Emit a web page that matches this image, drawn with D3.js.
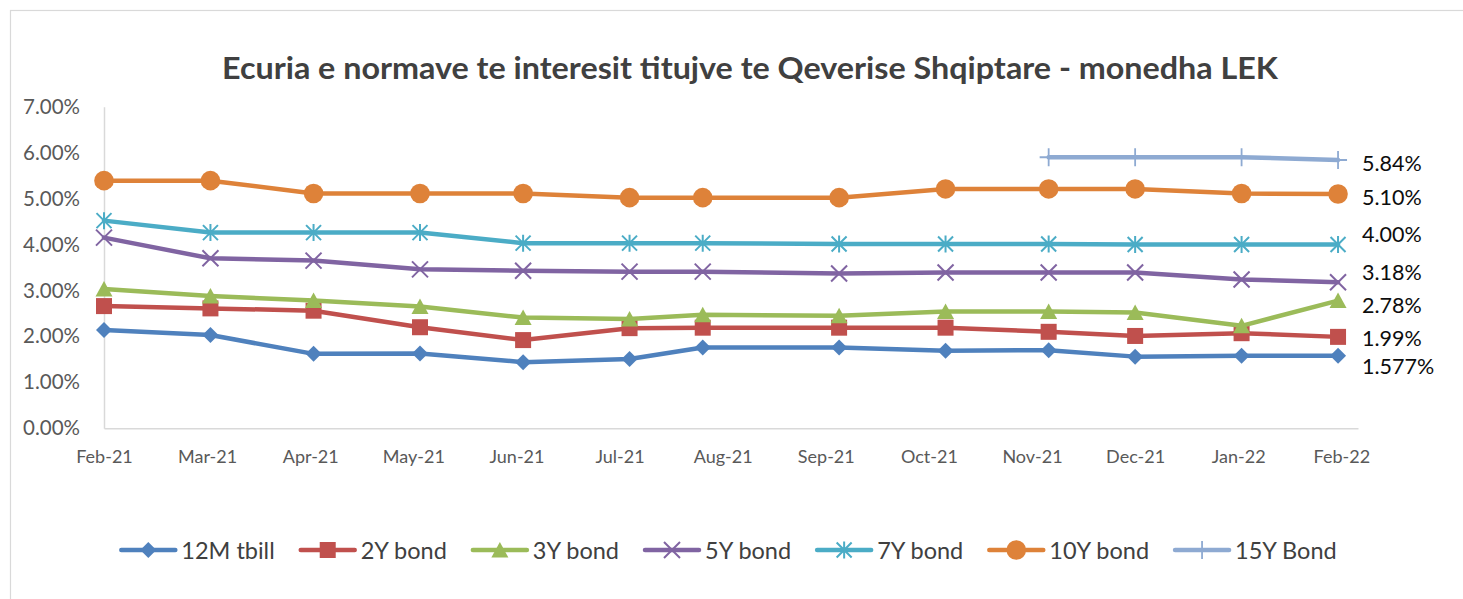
<!DOCTYPE html>
<html lang="sq">
<head>
    <meta charset="UTF-8">
    <script src="https://cdn.jsdelivr.net/npm/d3@7"></script>
    <title>Ecuria e normave te interesit</title>
    <style>
        body { margin: 0; background: #fff; }
        svg { display: block; font-family: Lato, "Open Sans", sans-serif; }
    </style>
</head>
<body>
<svg width="1463" height="599"></svg>

<script>
    // auction dates (points sit at their real date, ticks every 31 days)
    const dates = ["2021-02-10", "2021-03-14", "2021-04-14", "2021-05-16", "2021-06-16", "2021-07-18",
                   "2021-08-09", "2021-09-19", "2021-10-21", "2021-11-21", "2021-12-17", "2022-01-18", "2022-02-16"];
    const xTickLabels = ["Feb-21", "Mar-21", "Apr-21", "May-21", "Jun-21", "Jul-21", "Aug-21",
                         "Sep-21", "Oct-21", "Nov-21", "Dec-21", "Jan-22", "Feb-22"];
    const yTicks = [0, 1, 2, 3, 4, 5, 6, 7];

    const seriesNames = ["12M tbill", "2Y bond", "3Y bond", "5Y bond", "7Y bond", "10Y bond", "15Y Bond"];
    const tbill12M = [2.14, 2.03, 1.62, 1.63, 1.44, 1.51, 1.76, 1.76, 1.69, 1.70, 1.56, 1.58, 1.577];
    const bond2Y   = [2.66, 2.61, 2.56, 2.20, 1.92, 2.18, 2.19, 2.19, 2.19, 2.10, 2.01, 2.07, 1.99];
    const bond3Y   = [3.03, 2.88, 2.78, 2.65, 2.41, 2.38, 2.47, 2.45, 2.54, 2.54, 2.52, 2.23, 2.78];
    const bond5Y   = [4.15, 3.70, 3.65, 3.46, 3.43, 3.41, 3.41, 3.37, 3.39, 3.39, 3.39, 3.24, 3.18];
    const bond7Y   = [4.52, 4.26, 4.26, 4.26, 4.03, 4.03, 4.03, 4.01, 4.01, 4.01, 4.00, 4.00, 4.00];
    const bond10Y  = [5.39, 5.39, 5.11, 5.11, 5.11, 5.02, 5.02, 5.02, 5.21, 5.21, 5.21, 5.11, 5.10];
    const bond15Y  = [null, null, null, null, null, null, null, null, null, 5.90, 5.90, 5.90, 5.84];
    const lastLabels = ["1.577%", "1.99%", "2.78%", "3.18%", "4.00%", "5.10%", "5.84%"];

    const allValues = [tbill12M, bond2Y, bond3Y, bond5Y, bond7Y, bond10Y, bond15Y];

    // look of each series
    const colors  = ["#4f81bd", "#c0504d", "#9bbb59", "#8064a2", "#4bacc6", "#de8239", "#8eaad2"];
    const markers = ["diamond", "square", "triangle", "cross", "star", "circle", "plus"];
    const labelDy = [10, 1, 4, -10, -11, 3, 3];

    const parse = d3.timeParse("%Y-%m-%d");
    const dateObjs = dates.map(parse);
    const start = dateObjs[0];
    const tickDates = xTickLabels.map((_, i) => d3.timeDay.offset(start, 31 * i));

    const svg = d3.select("svg");

    svg.append("rect")
        .attr("x", 10.5).attr("y", 10.5)
        .attr("width", 1480).attr("height", 620)
        .attr("fill", "#fff").attr("stroke", "#d9d9d9").attr("stroke-width", 1.2);

    const x = d3.scaleTime()
        .domain([start, d3.timeDay.offset(start, 377)])
        .range([104, 1358]);
    const y = d3.scaleLinear()
        .domain([0, 7])
        .range([428.3, 106.7]);

    // title
    svg.append("text")
        .attr("x", 750).attr("y", 79)
        .attr("text-anchor", "middle")
        .attr("font-size", 30.5).attr("font-weight", "bold")
        .attr("fill", "#404040")
        .attr("textLength", 1056).attr("lengthAdjust", "spacingAndGlyphs")
        .text("Ecuria e normave te interesit titujve te Qeverise Shqiptare - monedha LEK");

    // axes
    const yAxis = svg.append("g")
        .attr("transform", "translate(104,0)")
        .call(d3.axisLeft(y).tickValues(yTicks).tickSize(0).tickPadding(24)
            .tickFormat(d => d.toFixed(2) + "%"));
    const xAxis = svg.append("g")
        .attr("transform", "translate(0,428.3)")
        .call(d3.axisBottom(x).tickValues(tickDates).tickSize(0).tickPadding(22)
            .tickFormat((d, i) => xTickLabels[i]));

    [yAxis, xAxis].forEach(a => {
        a.select(".domain").attr("stroke", "#d9d9d9").attr("stroke-width", 1.5);
        a.selectAll("text").attr("fill", "#595959").style("font-family", "Lato");
    });
    yAxis.selectAll("text").attr("font-size", 20.5);
    xAxis.selectAll("text").attr("font-size", 18);

    function drawMarker(g, type, color) {
        if (type === "diamond") {
            g.append("path").attr("d", "M0,-8L8,0L0,8L-8,0Z").attr("fill", color);
        } else if (type === "square") {
            g.append("rect").attr("x", -8).attr("y", -8).attr("width", 16).attr("height", 16).attr("fill", color);
        } else if (type === "triangle") {
            g.append("path").attr("d", "M0,-8L8.5,7.5L-8.5,7.5Z").attr("fill", color);
        } else if (type === "circle") {
            g.append("circle").attr("r", 9.8).attr("fill", color);
        } else if (type === "cross") {
            g.append("path").attr("d", "M-8,-8L8,8M8,-8L-8,8")
                .attr("stroke", color).attr("stroke-width", 2).attr("fill", "none");
        } else if (type === "star") {
            g.append("path").attr("d", "M-7.5,-7.5L7.5,7.5M7.5,-7.5L-7.5,7.5M0,-8.5L0,8.5")
                .attr("stroke", color).attr("stroke-width", 2).attr("fill", "none");
        } else if (type === "plus") {
            g.append("path").attr("d", "M-9,0L9,0M0,-9L0,9")
                .attr("stroke", color).attr("stroke-width", 1.8).attr("fill", "none");
        }
    }

    const line = d3.line()
        .defined(d => d.v != null)
        .x(d => x(d.date))
        .y(d => y(d.v));

    const plot = svg.append("g");
    allValues.forEach((vals, si) => {
        const pts = vals.map((v, i) => ({date: dateObjs[i], v: v}));
        const g = plot.append("g");
        g.append("path")
            .datum(pts)
            .attr("d", line)
            .attr("fill", "none")
            .attr("stroke", colors[si])
            .attr("stroke-width", 4.5)
            .attr("stroke-linejoin", "round")
            .attr("stroke-linecap", "round");
        pts.filter(d => d.v != null).forEach(d => {
            const m = g.append("g").attr("transform", `translate(${x(d.date)},${y(d.v)})`);
            drawMarker(m, markers[si], colors[si]);
        });
        // value label at the last point
        const last = pts[pts.length - 1];
        svg.append("text")
            .attr("x", x(last.date) + 24)
            .attr("y", y(last.v) + labelDy[si])
            .attr("dominant-baseline", "central")
            .attr("font-size", 21.5)
            .attr("fill", "#0d0d0d")
            .text(lastLabels[si]);
    });

    // legend
    const legend = svg.append("g");
    let lx = 0;
    seriesNames.forEach((name, si) => {
        const it = legend.append("g").attr("transform", `translate(${lx},550)`);
        it.append("line").attr("x1", 0).attr("x2", 54)
            .attr("stroke", colors[si]).attr("stroke-width", 4.5).attr("stroke-linecap", "round");
        drawMarker(it.append("g").attr("transform", "translate(27,0)"), markers[si], colors[si]);
        const t = it.append("text").attr("x", 60).attr("dominant-baseline", "central")
            .attr("font-size", 23.5).attr("fill", "#404040").text(name);
        lx += 60 + t.node().getComputedTextLength() + 26;
    });
    const legendW = lx - 26;
    legend.attr("transform", `translate(${729 - legendW / 2},0)`);
</script>

</body>
</html>
